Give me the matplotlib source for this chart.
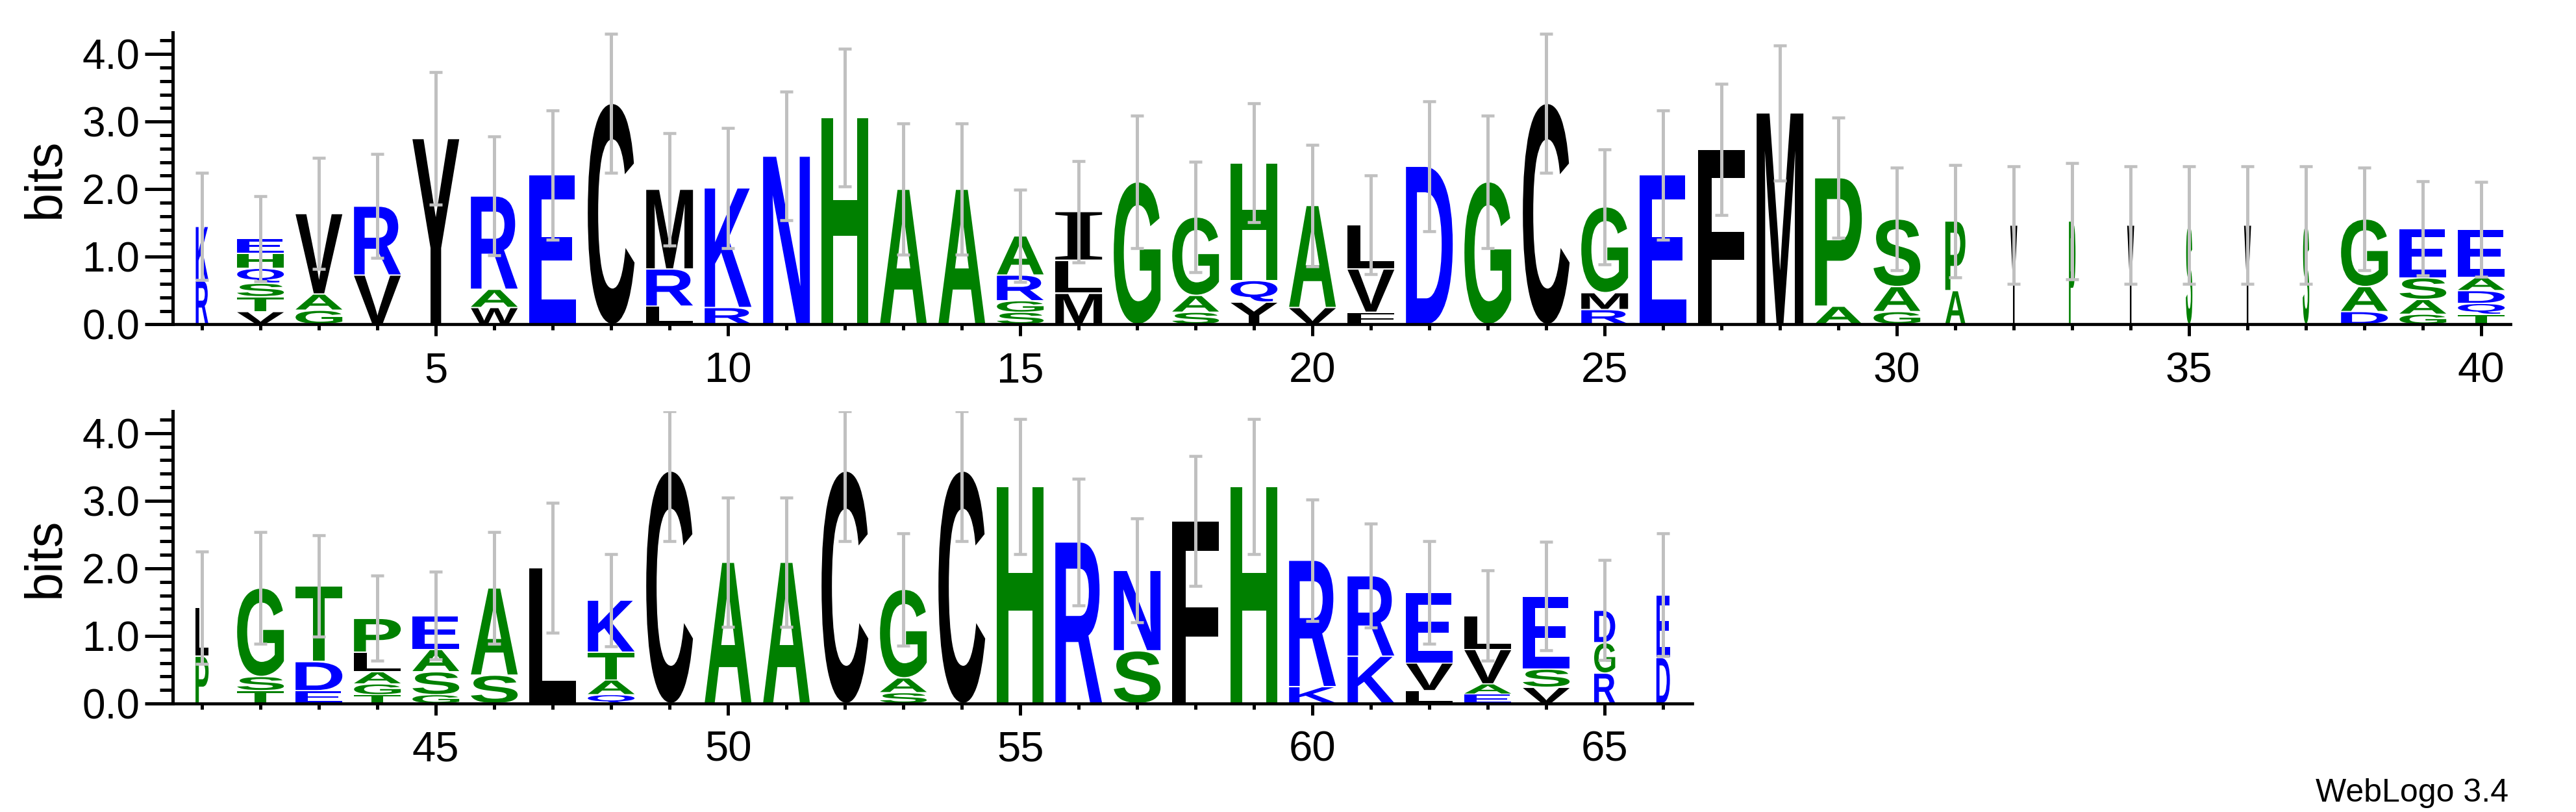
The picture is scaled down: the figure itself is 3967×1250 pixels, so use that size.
import matplotlib
matplotlib.use('Agg')
import matplotlib.pyplot as plt
from matplotlib.textpath import TextPath
from matplotlib.patches import PathPatch
from matplotlib.font_manager import FontProperties
from matplotlib.transforms import Affine2D
from matplotlib.ticker import MultipleLocator, FormatStrFormatter

plt.rcParams['font.family'] = ['Liberation Sans', 'DejaVu Sans']

YMAX = 4.3219  # log2(20)

# letters of each column, bottom to top, with their heights in bits
row1_pos = list(range(1, 41))
row1_letters = ["RK", "VTSQHE", "GAV", "VR", "Y", "WAR", "E", "C", "LRM", "RK",
                "N", "H", "A", "A", "SGRA", "MLI", "G", "SAG", "YQH", "VA",
                "FVL", "D", "G", "C", "RMG", "E", "F", "M", "AP", "GAS",
                "AP", "Y", "P", "Y", "S", "Y", "S", "DAG", "GASE", "TQDAE"]
row1_heights = [[.65, .80], [.19, .22, .20, .22, .22, .22], [.21, .24, 1.19], [.73, 1.02],
                [2.75], [.25, .27, 1.38], [2.21], [3.27], [.27, .55, 1.18], [.25, 1.77],
                [2.49], [3.06], [2.0], [2.0], [.18, .17, .38, .58], [.46, .49, .72],
                [2.11], [.18, .25, 1.16], [.33, .32, 1.74], [.25, 1.51],
                [.18, .64, .65], [2.34], [2.11], [3.27], [.22, .25, 1.27], [2.21],
                [2.59], [3.13], [.27, 1.90], [.19, .37, 1.00],
                [.50, 1.03], [1.47], [1.53], [1.47], [1.47], [1.47], [1.47],
                [.19, .37, 1.00], [.15, .22, .32, .73], [.15, .16, .19, .20, .71]]
row1_err = [.79, .63, .82, .77, .98, .88, .96, 1.03, .83, .89,
            .95, 1.02, .97, .97, .68, .75, .98, .82, .88, .90,
            .73, .96, .98, 1.03, .85, .96, .97, 1.0, .89, .76,
            .83, .87, .86, .87, .87, .87, .87, .76, .70, .70]
# stack width as fraction of a full column (non-gap share)
row1_width = [.27, 1, 1, 1, 1, 1, 1, 1, 1, 1,
              1, 1, 1, 1, 1, 1, 1, 1, 1, 1,
              1, 1, 1, 1, 1, 1, 1, 1, 1, 1,
              .43, .15, .14, .15, .14, .15, .14, 1, 1, 1]

row2_pos = list(range(41, 67))
row2_letters = ["PL", "TSG", "EDT", "TGALP", "GSAE", "SA", "L", "QATK", "C", "A",
                "A", "C", "SAG", "C", "H", "R", "SN", "F", "H", "KR",
                "KR", "LVE", "EAVL", "VSE", "RGD", "DE"]
row2_heights = [[.70, .72], [.19, .21, 1.31], [.19, .43, 1.12], [.13, .16, .18, .29, .50],
                [.13, .34, .33, .50], [.42, 1.29], [2.01], [.13, .22, .41, .77],
                [3.44], [2.09], [2.09], [3.44], [.16, .22, 1.31], [3.44], [3.21],
                [2.39], [.78, 1.19], [2.70], [3.21], [.25, 1.87], [.70, 1.19],
                [.19, .41, 1.04], [.14, .15, .51, .50], [.24, .27, 1.08],
                [.45, .45, .48], [.68, .93]]
row2_err = [.83, .83, .75, .63, .65, .83, .96, .68, 1.04, .96,
            .96, 1.04, .83, 1.04, 1.0, .94, .77, .96, 1.0, .90,
            .77, .76, .67, .80, .74, .91]
row2_width = [.28, 1, 1, 1, 1, 1, 1, 1, 1, 1,
              1, 1, 1, 1, 1, 1, 1, 1, 1, 1,
              1, 1, 1, 1, .45, .29]

BLUE, GREEN, BLACK = '#0000ff', '#008000', '#000000'
COLORS = {}
for c in "KREDNQ":
    COLORS[c] = BLUE
for c in "HAGSTP":
    COLORS[c] = GREEN
for c in "VYCMLIFW":
    COLORS[c] = BLACK

LETTER_FONT = FontProperties(family='Liberation Sans', weight='bold')
SERIF_FONT = FontProperties(family='Liberation Serif', weight='bold')  # I gets serifs
glyphs = {}


def glyph(ch):
    if ch not in glyphs:
        p = TextPath((0, 0), ch, size=1, prop=SERIF_FONT if ch == 'I' else LETTER_FONT)
        glyphs[ch] = (p, p.get_extents())
    return glyphs[ch]


def draw_logo(ax, positions, letters, heights, errors, widths):
    tops = []
    for x, seq, hs, w in zip(positions, letters, heights, widths):
        y = 0.0
        for ch, h in zip(seq, hs):
            p, bb = glyph(ch)
            gw = 0.8 * w
            pad = min(0.01, h * 0.05)
            tr = (Affine2D().translate(-bb.x0, -bb.y0)
                  .scale(gw / bb.width, (h - 2 * pad) / bb.height)
                  .translate(x - gw / 2, y + pad))
            ax.add_patch(PathPatch(tr.transform_path(p), fc=COLORS[ch], ec='none',
                                   lw=0, zorder=2))
            y += h
        tops.append(y)
    lower = [min(e, t) for e, t in zip(errors, tops)]
    upper = [min(e, YMAX - t) for e, t in zip(errors, tops)]
    ax.errorbar(positions, tops, yerr=[lower, upper], fmt='none', ecolor='#c0c0c0',
                elinewidth=3.6, capsize=7.2, capthick=3.3, zorder=3)


def style_axes(ax, positions, fig):
    ax.set_xlim(positions[0] - 0.5, positions[-1] + 0.5)
    ax.set_ylim(0, YMAX)
    ax.spines['top'].set_visible(False)
    ax.spines['right'].set_visible(False)
    ax.spines['left'].set_linewidth(3.6)
    ax.spines['bottom'].set_linewidth(3.4)
    ax.xaxis.set_major_locator(MultipleLocator(5))
    ax.xaxis.set_minor_locator(MultipleLocator(1))
    ax.yaxis.set_major_locator(MultipleLocator(1))
    ax.yaxis.set_minor_locator(MultipleLocator(0.2))
    ax.yaxis.set_major_formatter(FormatStrFormatter('%.1f'))
    ax.tick_params(axis='x', which='major', length=13, width=3.6, pad=17, labelsize=47)
    ax.tick_params(axis='x', which='minor', length=6.3, width=3.6)
    ax.tick_params(axis='y', which='major', length=31, width=3.6, pad=5.8, labelsize=46)
    ax.tick_params(axis='y', which='minor', length=14.7, width=3.6)
    ax.set_ylabel('bits', fontsize=57)
    pos = ax.get_position()
    ax.yaxis.set_label_coords(70 / 3967, pos.y0 + pos.height / 2, transform=fig.transFigure)
    ax.yaxis.label.set_va('center')


fig = plt.figure(figsize=(39.67, 12.5), dpi=100)
ax1 = fig.add_axes([0.06710, 0.60048, 0.90749, 0.35976])
ax2 = fig.add_axes([0.06710, 0.13360, 0.58987, 0.35976])

draw_logo(ax1, row1_pos, row1_letters, row1_heights, row1_err, row1_width)
draw_logo(ax2, row2_pos, row2_letters, row2_heights, row2_err, row2_width)
style_axes(ax1, row1_pos, fig)
style_axes(ax2, row2_pos, fig)

fig.text(0.9738, 0.0128, 'WebLogo 3.4', fontsize=36, ha='right', va='baseline')

fig.savefig('out.png', dpi=100)
